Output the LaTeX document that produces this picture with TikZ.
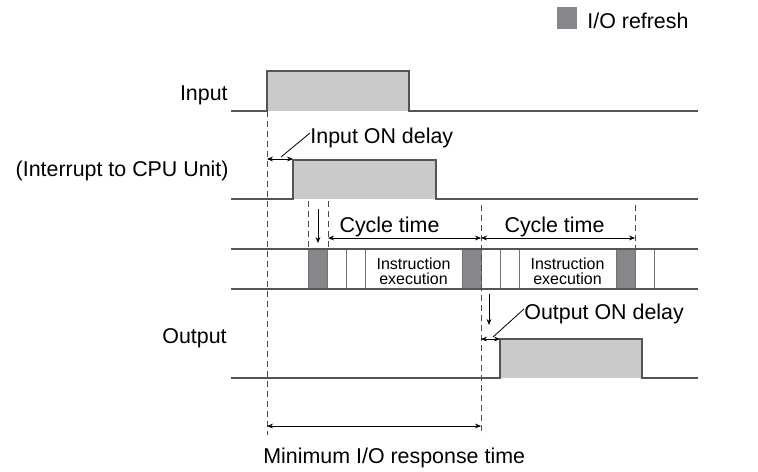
\documentclass[tikz,border=0pt]{standalone}
\usepackage{fontspec}
\setmainfont{Liberation Sans}
\usetikzlibrary{arrows.meta, positioning, calc}

\definecolor{pulsegray}{RGB}{201,202,204}
\definecolor{refreshgray}{RGB}{134,135,139}
\definecolor{linegray}{RGB}{85,85,85}

\tikzset{
  wave/.style={line width=1pt, draw=linegray},
  rowline/.style={line width=0.9pt, draw=linegray},
  sep/.style={line width=0.45pt, draw=black!55},
  guide/.style={line width=0.45pt, draw=black!70, dash pattern=on 3pt off 2pt},
  dim/.style={line width=0.4pt, {Stealth[length=3pt,width=2.4pt]}-{Stealth[length=3pt,width=2.4pt]}},
  ptr/.style={line width=0.4pt, -{Stealth[length=3pt,width=2.4pt]}},
  lbl/.style={inner sep=0pt, font=\fontsize{10.7}{12}\selectfont},
  small/.style={inner sep=0pt, align=center, font=\fontsize{8}{7.6}\selectfont},
}

\begin{document}
\begin{tikzpicture}[x=0.5pt, y=-0.5pt]
    \useasboundingbox (0,0) rectangle (758,471);

    % --- Legend ---
    \fill[refreshgray] (557,7) rectangle (577,29);
    \node[lbl, anchor=base west] (legend) at (587,28) {I/O refresh};

    % --- Input ---
    \fill[pulsegray] (267,71) rectangle (409,111);
    \draw[wave] (231,111) -- (267,111) -- (267,71) -- (409,71) -- (409,111) -- (698,111);
    \node[lbl, anchor=base east] (input) at (228,100) {Input};

    % --- Interrupt to CPU Unit ---
    \fill[pulsegray] (293,160) rectangle (436,199);
    \draw[wave] (231,199) -- (293,199) -- (293,160) -- (436,160) -- (436,199) -- (698,199);
    \node[lbl, anchor=base east] (irq) at (229,176) {(Interrupt to CPU Unit)};

    % --- Cycle row ---
    \foreach \x in {308,462,616}
      \fill[refreshgray] (\x,249) rectangle ++(19,40);
    \foreach \x in {308,327,346,365,462,481,500,519,616,635,654}
      \draw[sep] (\x,249) -- (\x,289);
    \draw[rowline] (231,249) -- (698,249);
    \draw[rowline] (231,289) -- (698,289);
    \node[small] (exec1) at (413.5,271) {Instruction\\execution};
    \node[small] (exec2) at (567.5,271) {Instruction\\execution};

    % --- Output ---
    \fill[pulsegray] (500,339) rectangle (642,378);
    \draw[wave] (231,378) -- (500,378) -- (500,339) -- (642,339) -- (642,378) -- (698,378);
    \node[lbl, anchor=base east] (output) at (227,343) {Output};

    % --- Guides ---
    \draw[guide] (267,111) -- (267,435);
    \draw[guide] (308,201) -- (308,249);
    \draw[guide] (328,201) -- (328,249);
    \draw[guide] (481,205) -- (481,435);
    \draw[guide] (635,205) -- (635,249);

    % --- Named points on the guides ---
    \coordinate (inOn)    at (267,159);
    \coordinate (irqOn)   at (293,159);
    \coordinate (cycA)    at (328,238);
    \coordinate (cycB)    at (481,238);
    \coordinate (cycC)    at (635,238);
    \coordinate (outRef)  at (481,339);
    \coordinate (outOn)   at (500,339);
    \coordinate (respA)   at (267,426);
    \coordinate (respB)   at (481,426);
    \coordinate (readTop) at (318,209);
    \coordinate (readBot) at (318,243);
    \coordinate (wrTop)   at (489,294);
    \coordinate (wrBot)   at (489,325);

    % --- Input ON delay ---
    \draw[dim] (inOn) -- (irqOn);
    \node[lbl, anchor=base west] (indelay) at (310,143) {Input ON delay};
    \draw[line width=0.4pt] (281,157) -- (indelay.west |- 0,133);

    % --- Cycle time ---
    \draw[ptr] (readTop) -- (readBot);
    \draw[dim] (cycA) -- (cycB);
    \draw[dim] (cycB) -- (cycC);
    \node[lbl, anchor=base] (cyc1) at (389.5,232) {Cycle time};
    \node[lbl, anchor=base] (cyc2) at (554.5,232) {Cycle time};

    % --- Output ON delay ---
    \draw[ptr] (wrTop) -- (wrBot);
    \draw[dim] (outRef) -- (outOn);
    \node[lbl, anchor=base west] (outdelay) at (524,319) {Output ON delay};
    \draw[line width=0.4pt] (493,337) -- (outdelay.west |- 0,309);

    % --- Minimum I/O response time ---
    \draw[dim] (respA) -- (respB);
    \node[lbl, anchor=base west] (minresp) at (263,463) {Minimum I/O response time};
  \end{tikzpicture}
\end{document}
